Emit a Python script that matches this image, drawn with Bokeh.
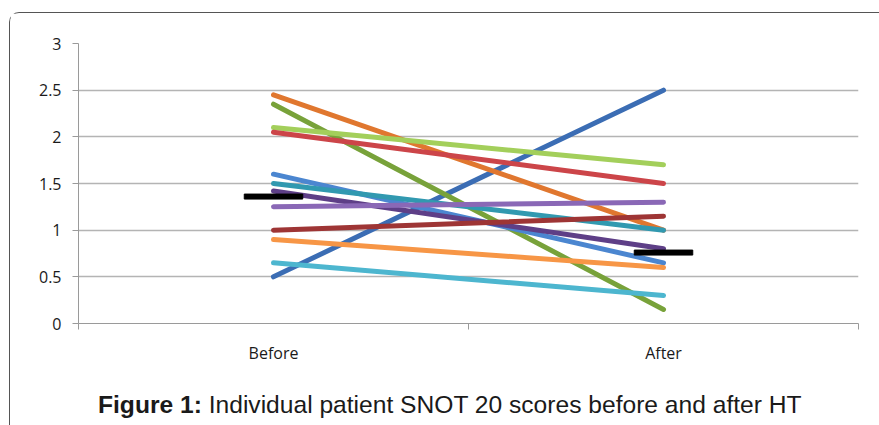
from bokeh.plotting import figure
from bokeh.models import FixedTicker, Range1d, ColumnDataSource, Div
from bokeh.layouts import column
from bokeh.embed import file_html
from bokeh.resources import INLINE

# ---- data ----
categories = ["Before", "After"]
before = [0.5, 2.45, 2.35, 2.1, 2.05, 1.6, 1.5, 1.42, 1.25, 1.0, 0.9, 0.65]
after = [2.5, 1.0, 0.15, 1.7, 1.5, 0.65, 1.0, 0.8, 1.3, 1.15, 0.6, 0.3]
summary = [1.36, 0.76]
y_ticks = [0, 0.5, 1, 1.5, 2, 2.5, 3]
y_labels = ["0", "0.5", "1", "1.5", "2", "2.5", "3"]
caption_bold = "Figure 1:"
caption_rest = "Individual patient SNOT 20 scores before and after HT"

colors = ["#3B6DB4", "#E0772F", "#78A23A", "#A3CF5B", "#CC4549", "#4B86D0",
          "#3199B0", "#5E3F87", "#8A68B6", "#9E3535", "#F79646", "#4DB6CF"]

cat_x = [i + 0.5 for i in range(len(categories))]

p = figure(width=864, height=360, output_backend="svg", toolbar_location=None,
           x_range=Range1d(0, len(categories)), y_range=Range1d(0, 3),
           min_border_left=68, min_border_right=16, min_border_top=30,
           min_border_bottom=50)
p.outline_line_color = None
p.background_fill_color = "white"
p.border_fill_color = "white"

# axes
p.yaxis.ticker = FixedTicker(ticks=y_ticks)
p.yaxis.major_label_overrides = {t: l for t, l in zip(y_ticks, y_labels)}
p.yaxis.axis_line_color = "#9A9A9A"
p.yaxis.major_tick_line_color = "#9A9A9A"
p.yaxis.major_tick_out = 6
p.yaxis.major_tick_in = 0
p.yaxis.minor_tick_line_color = None
p.yaxis.major_label_text_font = "Open Sans"
p.yaxis.major_label_text_font_size = "16px"
p.yaxis.major_label_text_color = "#1a1a1a"
p.yaxis.major_label_standoff = 11

p.xaxis.ticker = FixedTicker(ticks=cat_x, minor_ticks=list(range(len(categories) + 1)))
p.xaxis.major_label_overrides = {x: c for x, c in zip(cat_x, categories)}
p.xaxis.axis_line_color = "#9A9A9A"
p.xaxis.major_tick_line_color = None
p.xaxis.minor_tick_line_color = "#9A9A9A"
p.xaxis.minor_tick_out = 6
p.xaxis.minor_tick_in = 0
p.xaxis.major_label_text_font = "Open Sans"
p.xaxis.major_label_text_font_size = "16px"
p.xaxis.major_label_text_color = "#1a1a1a"
p.xaxis.major_label_standoff = 12

p.xgrid.grid_line_color = None
p.ygrid.ticker = FixedTicker(ticks=y_ticks)
p.ygrid.grid_line_color = "#B4B4B4"
p.ygrid.grid_line_width = 1.5

# patient lines
for b, a, c in zip(before, after, colors):
    p.line(x=cat_x, y=[b, a], line_color=c, line_width=5, line_cap="round")

# summary markers
src = ColumnDataSource(dict(x=cat_x, y=summary))
p.rect(x="x", y="y", width=0.15, height=5, height_units="screen", source=src,
       fill_color="black", line_color="black")

# caption
cap = Div(text=f"<b>{caption_bold}</b> {caption_rest}", width=864, height=50,
          styles={"font-family": "'Liberation Sans', Arial, sans-serif",
                  "font-size": "24.6px", "line-height": "28px", "color": "#1a1a1a",
                  "padding-left": "83px", "padding-top": "13px",
                  "box-sizing": "border-box", "white-space": "nowrap",
                  "background-color": "white"})

layout = column(p, cap, spacing=0,
                styles={"border-top": "1.5px solid #555", "border-left": "1.5px solid #555",
                        "border-right": "1.5px solid #555",
                        "border-top-left-radius": "10px",
                        "margin-top": "12px", "margin-left": "9px"})

open("out.html", "w").write(file_html(layout, INLINE))
